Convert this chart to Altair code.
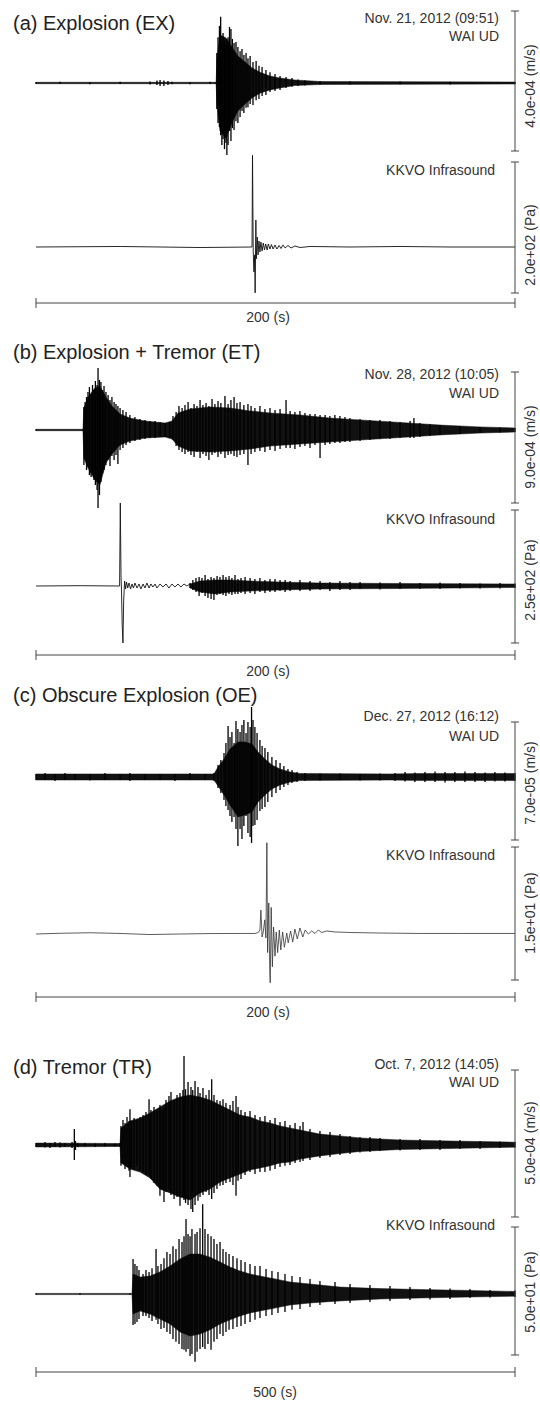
import altair as alt
import pandas as pd

W, H = 540, 1402
FONT = "Liberation Sans"
INK = "#111111"
GREY = "#444444"

# ---------------- text content ----------------
TITLES = ["(a) Explosion (EX)", "(b) Explosion + Tremor (ET)",
          "(c) Obscure Explosion (OE)", "(d) Tremor (TR)"]
DATES = ["Nov. 21, 2012 (09:51)", "Nov. 28, 2012 (10:05)",
         "Dec. 27, 2012 (16:12)", "Oct. 7, 2012 (14:05)"]
SEIS_NAME = "WAI UD"
INFRA_NAME = "KKVO Infrasound"
SPANS = [200, 200, 200, 500]                       # s
SPAN_LABELS = ["200 (s)", "200 (s)", "200 (s)", "500 (s)"]
SEIS_SCALES = [400, 900, 70, 500]                  # um/s
SEIS_LABELS = ["4.0e-04 (m/s)", "9.0e-04 (m/s)", "7.0e-05 (m/s)", "5.0e-04 (m/s)"]
INFRA_SCALES = [200, 250, 15, 50]                  # Pa
INFRA_LABELS = ["2.0e+02 (Pa)", "2.5e+02 (Pa)", "1.5e+01 (Pa)", "5.0e+01 (Pa)"]

# Each dense trace: a solid core envelope (*_C_*) and the individual peak
# excursions (*_P_*).  Time in s, ground velocity in um/s,
# pressure in Pa.

# (a) WAI UD
A_WAI_C_T = [0, 75.2, 75.6, 76.8, 79.3, 81.8, 84.3, 87.3, 90.2, 93.5, 97.7, 101.9, 108.1, 118.6, 200]
A_WAI_C_UP = [2.0, 2.0, 71, 137, 129, 103, 77, 60, 43, 31, 20, 14, 8.6, 4.3, 2.9]
A_WAI_C_DN = [2.0, 2.0, 63, 137, 157, 114, 80, 60, 43, 29, 20, 14, 7.1, 4.3, 2.9]
A_WAI_P_T = [0, 10.0, 22.5, 35.1, 47.6, 50.5, 51.8, 53.4, 55.1, 56.8, 64.3, 72.7, 75.2, 75.5, 76.0,
             76.6, 77.1, 77.6, 78.1, 78.7, 79.3, 79.7, 80.2, 80.8, 81.4, 82.0, 82.7, 83.5, 84.3, 85.2,
             86.0, 86.8, 87.7, 88.5, 89.4, 90.6, 91.9, 93.1, 94.4, 96.0, 97.7, 99.8, 101.9, 104.4, 106.9,
             109.4, 112.3, 118.6, 131.1, 152.0, 172.9, 200]
A_WAI_P_UP = [2.9, 3.4, 2.9, 3.4, 4.3, 7.1, 8.6, 7.1, 5.7, 3.4, 2.9, 3.4, 2.9, 86, 131,
              163, 189, 120, 143, 123, 109, 126, 131, 160, 154, 126, 114, 117, 103, 91,
              97, 80, 86, 71, 77, 60, 63, 49, 46, 37, 31, 26, 20, 17, 14,
              10, 7.1, 5.7, 4.3, 4.3, 3.7, 3.4]
A_WAI_P_DN = [2.9, 2.9, 3.4, 2.9, 4.3, 5.7, 8.6, 8.6, 5.7, 3.4, 3.4, 2.9, 2.9, 74, 114,
              126, 149, 177, 160, 189, 171, 206, 177, 137, 166, 129, 134, 109, 114, 97,
              80, 86, 71, 69, 60, 63, 49, 46, 37, 34, 26, 23, 20, 14, 11,
              8.6, 7.1, 5.1, 4.3, 3.4, 4.3, 3.4]

# (a) KKVO infrasound waveform
A_INF_T = [0, 35.1, 68.5, 90.2, 90.4, 90.7, 91.0, 91.3, 91.5, 91.8, 92.0, 92.4, 92.7, 93.1, 93.5,
           93.9, 94.4, 94.9, 95.4, 95.9, 96.5, 97.0, 97.7, 98.3, 99.0, 99.8, 100.6, 101.5, 102.3, 103.1,
           104.0, 105.2, 106.5, 108.1, 110.2, 114.4, 131.1, 152.0, 172.9, 200]
A_INF_V = [0, 0.8, -0.8, 0, 140, -7.6, -38, -12, -70, 41, -18, 15, -12, 9.2, -7.6,
           7.6, -6.1, 6.1, -4.6, 4.6, -4.6, 4.6, -3.1, 3.8, -3.1, 3.1, -3.1, 2.3, -2.3, 3.1,
           -1.5, 2.3, -1.5, 1.5, -0.8, 0.8, 0, 0.8, 0, 0]

# (b) WAI UD
B_WAI_C_T = [0, 19.6, 20.0, 21.7, 24.6, 26.7, 29.2, 31.7, 35.1, 39.2, 45.5, 53.9, 56.8, 59.3, 64.3,
             72.7, 81.0, 89.4, 97.7, 110.2, 122.7, 135.3, 152.0, 168.7, 185.4, 200]
B_WAI_C_UP = [4.8, 4.8, 151, 227, 289, 302, 227, 165, 110, 82, 62, 48, 62, 117, 144,
              158, 151, 131, 117, 103, 82, 69, 52, 34, 21, 14]
B_WAI_C_DN = [4.8, 4.8, 192, 261, 344, 378, 227, 165, 103, 76, 55, 48, 62, 110, 144,
              151, 144, 131, 110, 96, 82, 69, 52, 34, 21, 14]
B_WAI_P_T = [0, 19.6, 20.0, 20.5, 21.1, 21.7, 22.3, 23.0, 23.6, 24.2, 24.8, 25.5, 25.9, 26.5, 27.1,
             27.8, 28.4, 29.2, 30.1, 30.9, 31.7, 32.6, 33.4, 34.2, 35.1, 36.3, 37.6, 39.2, 41.3, 43.4,
             45.5, 47.6, 49.7, 51.8, 53.9, 55.9, 57.2, 58.5, 59.7, 61.0, 62.2, 63.5, 64.7, 66.0, 67.2,
             68.5, 69.7, 71.0, 72.2, 73.5, 74.7, 76.0, 77.2, 78.9, 80.2, 81.4, 82.7, 83.9, 85.2, 86.8,
             88.5, 89.8, 91.4, 93.5, 95.6, 97.7, 99.8, 101.9, 104.4, 106.1, 108.1, 110.2, 112.3, 114.4, 116.5,
             118.6, 120.7, 122.7, 124.8, 126.9, 129.0, 131.1, 135.3, 139.4, 143.6, 147.8, 152.0, 156.2, 157.8, 160.3,
             164.5, 168.7, 177.0, 185.4, 193.7, 200]
B_WAI_P_UP = [5.5, 5.5, 158, 192, 227, 261, 295, 240, 309, 275, 337, 309, 426, 344, 330,
              275, 302, 261, 240, 206, 227, 192, 179, 165, 151, 137, 124, 103, 89, 76,
              69, 62, 62, 55, 48, 55, 96, 124, 165, 151, 172, 192, 151, 179, 165,
              206, 172, 185, 165, 213, 179, 199, 185, 234, 179, 206, 227, 185, 192, 172,
              179, 165, 151, 165, 144, 151, 137, 144, 206, 131, 124, 131, 117, 110, 110,
              103, 103, 96, 103, 96, 89, 82, 76, 69, 69, 62, 55, 62, 82, 48,
              41, 34, 27, 21, 17, 14]
B_WAI_P_DN = [5.5, 5.5, 240, 206, 275, 254, 309, 323, 295, 344, 378, 412, 536, 447, 357,
              295, 275, 240, 206, 247, 179, 206, 172, 234, 137, 124, 103, 89, 76, 69,
              62, 55, 55, 48, 48, 55, 69, 110, 137, 151, 165, 151, 172, 185, 151,
              192, 165, 179, 206, 172, 158, 185, 165, 192, 172, 165, 179, 185, 172, 165,
              240, 165, 151, 144, 151, 137, 144, 131, 124, 124, 131, 117, 110, 124, 103,
              192, 103, 96, 89, 89, 82, 82, 76, 69, 62, 62, 55, 55, 55, 48,
              41, 34, 27, 21, 17, 14]

# (b) KKVO infrasound: waveform up to 64 s, then core + peaks
B_INF_T = [0, 18.4, 34.9, 35.2, 35.5, 35.7, 36.0, 36.3, 36.6, 37.0, 37.4, 37.8, 38.3, 38.8, 39.5,
           40.1, 40.7, 41.3, 42.2, 43.0, 43.8, 44.7, 45.5, 46.3, 47.2, 48.0, 48.8, 49.7, 50.5, 51.8,
           53.0, 54.3, 55.5, 56.8, 58.0, 59.3, 60.5, 61.8, 63.0, 64.3]
B_INF_V = [0, 0.6, 0, 156, 19, -9.4, -75, -107, -28, 9.4, -5.6, 7.5, -3.8, 5.6, -5.6,
           3.8, -3.8, 5.6, -3.8, 3.8, -5.6, 3.8, -3.8, 5.6, -3.8, 3.8, -1.9, 3.8, -3.8, 3.8,
           -1.9, 3.8, -3.8, 3.8, -1.9, 3.8, -1.9, 3.8, 0, 3.8]
B_INF_C_T = [64.3, 68.5, 74.7, 81.0, 89.4, 101.9, 118.6, 152.0, 200]
B_INF_C_UP = [3.8, 9.4, 11.3, 11.3, 9.4, 7.5, 5.6, 4.7, 3.8]
B_INF_C_DN = [3.8, 11.3, 15.0, 11.3, 9.4, 7.5, 5.6, 4.7, 2.8]
B_INF_P_T = [64.3, 65.5, 66.8, 68.1, 69.3, 70.6, 71.8, 73.1, 74.3, 75.6, 76.8, 78.1, 79.3, 80.6, 81.8,
             83.1, 84.3, 85.6, 87.3, 89.4, 91.4, 93.5, 95.6, 97.7, 99.8, 101.9, 104.0, 106.1, 110.2, 114.4,
             118.6, 122.7, 126.9, 131.1, 135.3, 143.6, 152.0, 160.3, 168.7, 177.0, 185.4, 193.7, 200]
B_INF_P_UP = [5.6, 11.3, 15.0, 16.9, 15.0, 20.7, 13.2, 16.9, 15.0, 18.8, 16.9, 20.7, 16.9, 18.8, 15.0,
              20.7, 13.2, 15.0, 16.9, 15.0, 13.2, 15.0, 11.3, 13.2, 13.2, 11.3, 11.3, 9.4, 11.3, 9.4,
              9.4, 7.5, 9.4, 7.5, 7.5, 6.6, 7.5, 5.6, 6.6, 5.6, 4.7, 5.6, 4.7]
B_INF_P_DN = [3.8, 7.5, 11.3, 18.8, 13.2, 18.8, 22.6, 24.4, 26.3, 16.9, 15.0, 16.9, 18.8, 15.0, 16.9,
              15.0, 15.0, 13.2, 15.0, 13.2, 15.0, 11.3, 13.2, 11.3, 11.3, 9.4, 11.3, 9.4, 9.4, 9.4,
              7.5, 9.4, 7.5, 7.5, 5.6, 6.6, 5.6, 5.6, 5.6, 4.7, 4.7, 4.7, 3.8]

# (c) WAI UD
C_WAI_C_T = [0, 74.3, 76.0, 78.5, 81.0, 84.3, 87.3, 90.2, 92.7, 95.6, 98.5, 101.9, 106.1, 110.2, 147.8,
             160.3, 200]
C_WAI_C_UP = [1.8, 1.8, 5.9, 10.7, 16.6, 20.8, 20.8, 19.6, 14.8, 10.7, 7.1, 4.7, 3.0, 2.1, 1.8,
              2.1, 2.1]
C_WAI_C_DN = [1.8, 1.8, 5.3, 10.7, 16.6, 23.7, 22.5, 20.8, 14.8, 10.7, 7.1, 4.7, 3.0, 2.1, 1.8,
              2.1, 2.1]
C_WAI_P_T = [0, 3.8, 7.9, 12.1, 16.3, 22.5, 28.8, 35.1, 39.2, 45.5, 51.8, 58.0, 64.3, 70.6, 74.3,
             76.0, 77.2, 78.5, 79.3, 80.2, 81.0, 81.8, 82.7, 83.5, 84.3, 85.2, 86.0, 86.8, 87.7, 88.5,
             89.4, 90.0, 90.6, 91.4, 92.3, 93.5, 94.4, 95.6, 96.8, 98.5, 100.2, 101.9, 103.5, 105.2, 106.9,
             109.0, 112.3, 118.6, 126.9, 135.3, 143.6, 149.9, 154.1, 158.2, 162.4, 166.6, 170.8, 174.9, 179.1, 183.3,
             187.5, 191.6, 195.8, 200]
C_WAI_P_UP = [1.8, 2.4, 1.8, 2.4, 1.8, 1.8, 2.4, 1.8, 2.4, 1.8, 1.8, 1.8, 2.4, 1.8, 2.4,
              7.1, 10.1, 14.2, 20.2, 30.2, 23.7, 26.7, 20.2, 33.2, 28.5, 26.7, 30.8, 33.8, 26.1, 32.6,
              29.7, 41.5, 33.8, 29.7, 26.1, 21.9, 18.4, 17.2, 14.8, 11.9, 10.1, 8.3, 6.5, 4.7, 4.2,
              3.0, 2.4, 2.1, 2.1, 1.8, 2.1, 2.4, 3.0, 2.7, 3.0, 3.3, 3.0, 3.0, 3.3, 3.0,
              2.7, 3.0, 2.7, 2.4]
C_WAI_P_DN = [1.8, 1.8, 2.4, 1.8, 1.8, 2.1, 1.8, 1.8, 2.4, 1.8, 1.8, 2.4, 1.8, 1.8, 2.4,
              6.5, 9.5, 13.6, 17.2, 19.6, 23.1, 26.7, 23.7, 30.8, 40.9, 30.8, 36.8, 29.1, 23.1, 33.2,
              35.6, 39.1, 29.1, 28.5, 25.5, 20.2, 19.0, 17.8, 14.8, 11.9, 9.5, 7.7, 5.9, 4.7, 3.6,
              3.0, 2.4, 2.1, 1.8, 2.1, 2.1, 2.4, 2.7, 3.0, 3.0, 3.0, 3.3, 3.0, 3.0, 3.0,
              3.0, 2.7, 2.7, 2.4]

# (c) KKVO infrasound waveform
C_INF_T = [0, 10.0, 22.5, 35.1, 47.6, 60.1, 72.7, 85.2, 91.4, 92.1, 92.8, 93.5, 93.9, 94.4, 94.9,
           95.5, 96.0, 96.4, 96.7, 97.2, 97.6, 97.8, 98.2, 98.7, 99.2, 99.8, 100.3, 100.9, 101.6, 102.2,
           103.0, 103.7, 104.7, 105.3, 106.3, 107.2, 108.1, 109.1, 110.2, 111.4, 112.4, 113.7, 115.1, 116.5, 117.9,
           119.3, 121.4, 124.8, 131.1, 143.6, 160.3, 177.0, 200]
C_INF_V = [0, 0.08, 0.14, 0.06, -0.06, 0, 0.05, 0.06, 0.06, 0.11, 0.17, 0.45, 2.7, -0.34, 0.23,
           1.6, -0.45, 10.3, -2.1, 3.5, -4.1, -5.5, 3.0, -3.7, 0.79, -2.5, 0.23, -2.1, 0.45, -1.8,
           0.23, -1.5, 0.11, -1.0, 0.34, -0.9, 0.56, -0.56, 0.68, -0.34, 0.45, 0, 0.34, 0.06, 0.45,
           0.17, 0.34, 0.23, 0.17, 0.11, 0.06, 0.06, 0.06]

# (d) WAI UD
D_WAI_C_T = [0, 87.7, 88.7, 98.1, 108.6, 119.0, 129.4, 139.9, 150.3, 160.8, 171.2, 181.6,
             192.1, 202.5, 212.9, 223.4, 233.8, 244.3, 254.7, 265.1, 275.6, 296.4, 317.3, 338.2, 380.0, 432.2, 500]
D_WAI_C_UP = [6.8, 5.1, 58, 82, 92, 109, 129, 150, 163, 170, 163, 153,
              136, 119, 102, 95, 82, 75, 65, 58, 51, 37, 31, 24, 17, 13.6, 9.5]
D_WAI_C_DN = [6.8, 5.1, 61, 82, 92, 112, 150, 163, 177, 187, 163, 150,
              126, 112, 99, 85, 78, 71, 61, 58, 48, 37, 29, 22, 15.3, 11.9, 7.5]
D_WAI_P_T = [0, 9.4, 14.6, 19.8, 25.1, 30.3, 37.6, 40.0, 41.2, 43.8, 51.1, 61.6, 72.0, 82.5, 87.7,
             88.7, 90.8, 92.9, 95.0, 97.1, 98.1, 99.7, 102.3, 105.4, 108.6, 111.7, 114.8, 118.0, 120.0, 123.2,
             126.3, 129.4, 131.5, 133.6, 135.7, 138.8, 140.9, 144.1, 147.2, 150.3, 153.4, 154.5, 156.1, 158.7, 161.8,
             163.6, 166.0, 169.1, 171.2, 174.3, 177.5, 180.6, 183.4, 185.8, 188.9, 192.1, 195.2, 198.3, 202.5, 205.6,
             208.8, 210.9, 214.0, 218.2, 223.4, 228.6, 233.8, 239.0, 244.3, 249.5, 254.7, 259.9, 265.1, 270.4, 275.6,
             278.7, 286.0, 296.4, 306.9, 317.3, 327.8, 338.2, 348.6, 359.1, 380.0, 400.8, 421.7, 442.6, 463.5, 484.3,
             500]
D_WAI_P_UP = [6.8, 10.2, 6.8, 10.2, 8.5, 6.8, 10.2, 54, 13.6, 6.8, 6.8, 5.1, 6.8, 5.1, 6.8,
              65, 85, 75, 95, 82, 122, 82, 92, 85, 95, 102, 112, 156, 119, 129,
              122, 136, 119, 126, 153, 167, 180, 153, 170, 177, 187, 303, 190, 214, 197,
              187, 218, 197, 177, 194, 170, 187, 224, 170, 153, 150, 156, 143, 136, 150,
              167, 129, 119, 112, 116, 102, 95, 99, 85, 92, 78, 82, 68, 75, 65,
              78, 54, 48, 44, 37, 31, 27, 27, 24, 20, 20, 17, 17, 13.6, 11.9,
              10.2]
D_WAI_P_DN = [6.8, 8.5, 10.2, 6.8, 8.5, 6.8, 10.2, 51, 17, 6.8, 5.1, 6.8, 5.1, 5.1, 6.8,
              71, 61, 82, 75, 88, 109, 75, 82, 71, 85, 92, 102, 105, 116, 129,
              139, 173, 153, 194, 160, 153, 170, 184, 177, 207, 177, 187, 197, 204, 218,
              228, 204, 190, 177, 170, 160, 170, 184, 163, 150, 139, 136, 129, 126, 136,
              173, 122, 116, 102, 92, 99, 92, 92, 88, 82, 75, 71, 68, 61, 58,
              54, 51, 44, 41, 34, 31, 25.5, 24, 20, 18.7, 17, 17, 13.6, 13.6, 10.2,
              8.5]

# (d) KKVO infrasound
D_INF_C_T = [0, 100.2, 101.3, 108.6, 119.0, 129.4, 139.9, 150.3, 160.8, 171.2, 181.6, 192.1, 202.5, 212.9, 223.4,
             233.8, 249.5, 265.1, 286.0, 317.3, 359.1, 400.8, 453.0, 500]
D_INF_C_UP = [0.23, 0.23, 7.8, 6.6, 7.0, 8.6, 10.9, 13.7, 15.6, 15.6, 14.4, 12.5, 10.5, 9.0, 7.8,
              7.0, 5.9, 4.7, 3.9, 2.7, 2.1, 1.76, 1.37, 0.98]
D_INF_C_DN = [0.23, 0.23, 7.8, 6.6, 7.8, 9.8, 11.7, 14.8, 16.4, 15.6, 14.0, 11.7, 10.1, 8.6, 7.4,
              6.6, 5.5, 4.3, 3.5, 2.7, 1.95, 1.56, 1.17, 0.86]
D_INF_P_T = [0, 45.9, 98.1, 101.3, 103.3, 105.4, 107.5, 109.6, 111.7, 114.8, 118.0, 121.1, 125.3, 127.3, 130.5,
             133.6, 136.7, 139.9, 143.0, 146.1, 149.3, 152.4, 154.5, 156.6, 158.7, 160.8, 162.8, 166.0, 168.1, 171.2,
             174.0, 176.4, 179.5, 182.7, 185.8, 188.9, 192.1, 195.2, 198.3, 201.5, 205.6, 209.8, 214.0, 218.2, 223.4,
             228.6, 233.8, 240.1, 246.3, 252.6, 259.9, 267.2, 275.6, 286.0, 296.4, 312.1, 327.8, 348.6, 369.5, 390.4,
             411.3, 432.2, 453.0, 473.9, 500]
D_INF_P_UP = [0.31, 0.31, 0.31, 13.7, 11.7, 10.9, 9.4, 5.9, 7.8, 9.4, 8.6, 10.1, 17.6, 10.9, 11.7,
              14.0, 16.4, 15.6, 18.7, 17.6, 21.5, 20.3, 22.6, 29.3, 23.4, 22.6, 25.4, 23.4, 24.2, 25.7,
              35.1, 25.4, 23.4, 22.6, 21.5, 19.5, 20.3, 17.6, 16.4, 15.6, 14.8, 14.0, 13.3, 12.5, 11.7,
              10.9, 10.9, 9.8, 9.0, 8.6, 7.8, 7.0, 6.6, 5.9, 5.1, 4.7, 3.9, 3.5, 3.1, 2.7,
              2.3, 2.1, 1.95, 1.56, 1.37]
D_INF_P_DN = [0.31, 0.31, 0.31, 12.1, 11.7, 10.9, 9.8, 5.9, 8.6, 8.6, 9.4, 10.5, 10.1, 11.7, 13.7,
              13.3, 14.8, 15.6, 17.6, 18.7, 19.5, 21.5, 21.8, 22.6, 21.5, 24.2, 23.4, 26.5, 22.6, 21.5,
              20.7, 21.5, 19.5, 21.8, 18.7, 17.6, 15.6, 16.4, 14.8, 14.0, 13.7, 12.9, 12.5, 11.7, 10.9,
              10.1, 9.4, 8.6, 8.2, 7.4, 7.0, 6.2, 5.9, 5.1, 4.3, 3.9, 3.5, 3.1, 2.7, 2.3,
              2.1, 1.95, 1.56, 1.37, 1.17]

# ---------------- layout (pixels) ----------------
X0, X1 = 36, 515                      # trace start / end (scale bar ends)
TITLE_X = 13
TITLE_Y = [24, 353, 696, 1068]
DATE_Y = [19, 375, 717, 1065]
SEIS_NAME_Y = [37, 394, 737, 1083]
INFRA_NAME_Y = [171, 520, 856, 1226]
HBAR_Y = [303, 655, 997, 1372]
SPANLAB_X = [268, 268, 268, 275]
SPANLAB_Y = [318, 672, 1013, 1393]
SEIS_BASE = [83, 430, 777, 1145]
SEIS_BAR = [(11, 151), (372, 503), (722, 840), (1070, 1217)]
SEIS_LAB_Y = [86, 447, 783, 1143]
INFRA_BASE = [247, 586, 934, 1294]
INFRA_BAR = [(162, 293), (510, 643), (847, 980), (1227, 1355)]
INFRA_LAB_Y = [245, 580, 913, 1292]
BAR_X = 515
BAR_LAB_X = 531


def xscale(span):
    d = span / (X1 - X0)
    return alt.Scale(domain=[-X0 * d, (W - X0) * d], nice=False, zero=False)


def yscale(base, bar, value):
    k = value / (bar[1] - bar[0])
    return alt.Scale(domain=[-(H - base) * k, base * k], nice=False, zero=False)


def env_frame(t, up, dn):
    assert len(t) == len(up) == len(dn), (len(t), len(up), len(dn))
    return pd.DataFrame({"t": t, "hi": up, "lo": [-v for v in dn]})


def core_layer(t, up, dn, xs, ys):
    return alt.Chart(env_frame(t, up, dn)).mark_area(
        color=INK, stroke=INK, strokeWidth=0.5, opacity=1
    ).encode(
        x=alt.X("t:Q", scale=xs, axis=None),
        y=alt.Y("hi:Q", scale=ys, axis=None),
        y2="lo:Q",
    )


def peak_layer(t, up, dn, xs, ys):
    return alt.Chart(env_frame(t, up, dn)).mark_rule(color="#000000", strokeWidth=1.3).encode(
        x=alt.X("t:Q", scale=xs, axis=None),
        y=alt.Y("hi:Q", scale=ys, axis=None),
        y2="lo:Q",
    )


def line_layer(t, v, xs, ys, width=0.9, color=INK):
    assert len(t) == len(v), (len(t), len(v))
    df = pd.DataFrame({"t": t, "v": v})
    return alt.Chart(df).mark_line(color=color, strokeWidth=width).encode(
        x=alt.X("t:Q", scale=xs, axis=None),
        y=alt.Y("v:Q", scale=ys, axis=None),
    )


layers = []
# panel a
xs = xscale(SPANS[0])
ys = yscale(SEIS_BASE[0], SEIS_BAR[0], SEIS_SCALES[0])
layers.append(core_layer(A_WAI_C_T, A_WAI_C_UP, A_WAI_C_DN, xs, ys))
layers.append(peak_layer(A_WAI_P_T, A_WAI_P_UP, A_WAI_P_DN, xs, ys))
layers.append(line_layer(A_INF_T, A_INF_V, xs, yscale(INFRA_BASE[0], INFRA_BAR[0], INFRA_SCALES[0])))
# panel b
xs = xscale(SPANS[1])
ys = yscale(SEIS_BASE[1], SEIS_BAR[1], SEIS_SCALES[1])
layers.append(core_layer(B_WAI_C_T, B_WAI_C_UP, B_WAI_C_DN, xs, ys))
layers.append(peak_layer(B_WAI_P_T, B_WAI_P_UP, B_WAI_P_DN, xs, ys))
ys = yscale(INFRA_BASE[1], INFRA_BAR[1], INFRA_SCALES[1])
layers.append(line_layer(B_INF_T, B_INF_V, xs, ys))
layers.append(core_layer(B_INF_C_T, B_INF_C_UP, B_INF_C_DN, xs, ys))
layers.append(peak_layer(B_INF_P_T, B_INF_P_UP, B_INF_P_DN, xs, ys))
# panel c
xs = xscale(SPANS[2])
ys = yscale(SEIS_BASE[2], SEIS_BAR[2], SEIS_SCALES[2])
layers.append(core_layer(C_WAI_C_T, C_WAI_C_UP, C_WAI_C_DN, xs, ys))
layers.append(peak_layer(C_WAI_P_T, C_WAI_P_UP, C_WAI_P_DN, xs, ys))
layers.append(line_layer(C_INF_T, C_INF_V, xs, yscale(INFRA_BASE[2], INFRA_BAR[2], INFRA_SCALES[2]),
                         width=0.8, color="#333333"))
# panel d
xs = xscale(SPANS[3])
ys = yscale(SEIS_BASE[3], SEIS_BAR[3], SEIS_SCALES[3])
layers.append(core_layer(D_WAI_C_T, D_WAI_C_UP, D_WAI_C_DN, xs, ys))
layers.append(peak_layer(D_WAI_P_T, D_WAI_P_UP, D_WAI_P_DN, xs, ys))
ys = yscale(INFRA_BASE[3], INFRA_BAR[3], INFRA_SCALES[3])
layers.append(core_layer(D_INF_C_T, D_INF_C_UP, D_INF_C_DN, xs, ys))
layers.append(peak_layer(D_INF_P_T, D_INF_P_UP, D_INF_P_DN, xs, ys))

# ---------------- scale bars ----------------
segs = []
for i in range(4):
    for (top, bot) in (SEIS_BAR[i], INFRA_BAR[i]):
        segs.append(dict(x=BAR_X, x2=BAR_X, y=top, y2=bot))
        segs.append(dict(x=BAR_X - 4, x2=BAR_X + 4, y=top, y2=top))
        segs.append(dict(x=BAR_X - 4, x2=BAR_X + 4, y=bot, y2=bot))
    hy = HBAR_Y[i]
    segs.append(dict(x=X0, x2=X1, y=hy, y2=hy))
    segs.append(dict(x=X0, x2=X0, y=hy - 5, y2=hy + 5))
    segs.append(dict(x=X1, x2=X1, y=hy - 5, y2=hy + 5))
rules = alt.Chart(pd.DataFrame(segs)).mark_rule(color=GREY, strokeWidth=1).encode(
    x=alt.X("x:Q", scale=None), x2="x2:Q",
    y=alt.Y("y:Q", scale=None), y2="y2:Q",
)
layers.append(rules)

# ---------------- texts ----------------
titles = alt.Chart(pd.DataFrame({"x": [TITLE_X] * 4, "y": TITLE_Y, "s": TITLES})).mark_text(
    align="left", baseline="middle", font=FONT, fontSize=20, color="#222222"
).encode(x=alt.X("x:Q", scale=None), y=alt.Y("y:Q", scale=None), text="s:N")

right_rows = []
for i in range(4):
    right_rows.append(dict(x=499, y=DATE_Y[i], s=DATES[i]))
    right_rows.append(dict(x=499, y=SEIS_NAME_Y[i], s=SEIS_NAME))
    right_rows.append(dict(x=495, y=INFRA_NAME_Y[i], s=INFRA_NAME))
info = alt.Chart(pd.DataFrame(right_rows)).mark_text(
    align="right", baseline="middle", font=FONT, fontSize=14, color="#333333"
).encode(x=alt.X("x:Q", scale=None), y=alt.Y("y:Q", scale=None), text="s:N")

vrows = []
for i in range(4):
    vrows.append(dict(x=BAR_LAB_X, y=SEIS_LAB_Y[i], s=SEIS_LABELS[i]))
    vrows.append(dict(x=BAR_LAB_X, y=INFRA_LAB_Y[i], s=INFRA_LABELS[i]))
vlabels = alt.Chart(pd.DataFrame(vrows)).mark_text(
    align="center", baseline="middle", angle=270, font=FONT, fontSize=14, color="#333333"
).encode(x=alt.X("x:Q", scale=None), y=alt.Y("y:Q", scale=None), text="s:N")

spanlabs = alt.Chart(pd.DataFrame({"x": SPANLAB_X, "y": SPANLAB_Y, "s": SPAN_LABELS})).mark_text(
    align="center", baseline="middle", font=FONT, fontSize=14, color="#333333"
).encode(x=alt.X("x:Q", scale=None), y=alt.Y("y:Q", scale=None), text="s:N")

layers += [titles, info, vlabels, spanlabs]

chart = alt.layer(*layers).resolve_scale(x="independent", y="independent").properties(
    width=W, height=H,
    autosize=alt.AutoSizeParams(type="fit", contains="padding"),
    padding=0, background="white",
).configure_view(strokeWidth=0)

chart.save("out.html", embed_options={"renderer": "svg", "actions": False})
